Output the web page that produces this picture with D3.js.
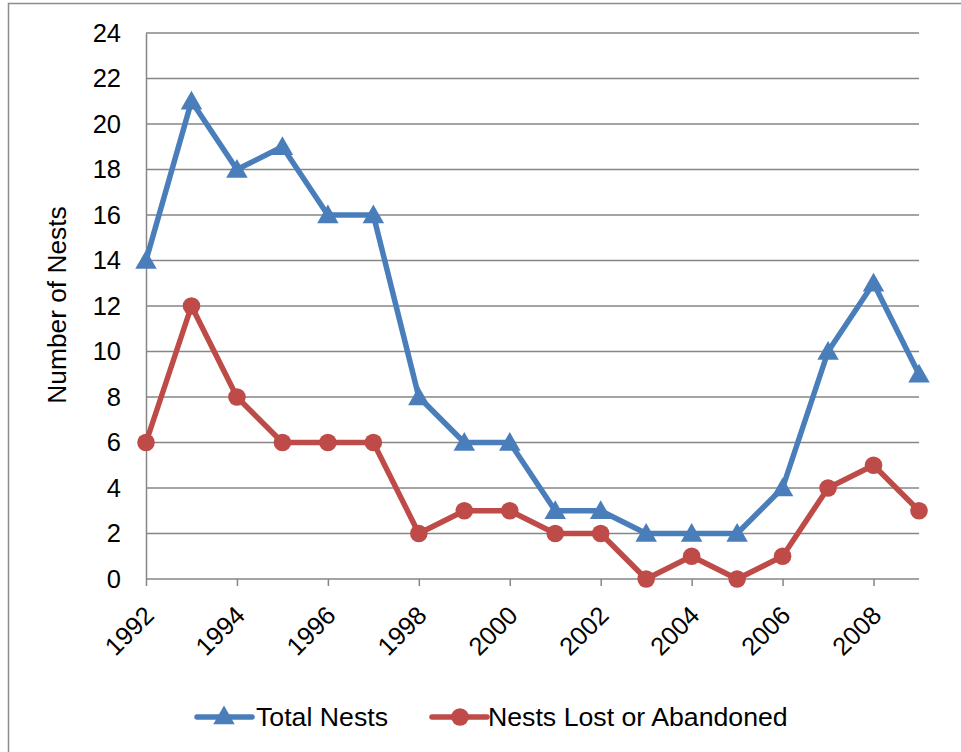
<!DOCTYPE html>
<html><head><meta charset="utf-8">
<script src="https://cdn.jsdelivr.net/npm/d3@7"></script>
<style>body{margin:0;background:#fff}svg{display:block;font-family:"Liberation Sans",Arial,sans-serif}</style>
</head><body><svg id="c" width="961" height="752"></svg>
<script>
const years = [1992,1993,1994,1995,1996,1997,1998,1999,2000,2001,2002,2003,2004,2005,2006,2007,2008,2009];
const totalNests = [14,21,18,19,16,16,8,6,6,3,3,2,2,2,4,10,13,9];
const nestsLost = [6,12,8,6,6,6,2,3,3,2,2,0,1,0,1,4,5,3];
const yTicks = [0,2,4,6,8,10,12,14,16,18,20,22,24];
const xTickYears = [1992,1994,1996,1998,2000,2002,2004,2006,2008];
const seriesNames = ["Total Nests","Nests Lost or Abandoned"];
const colors = ["#4A7EBB","#BE4B48"];

const svg = d3.select("#c");
const L=146, R=919, T=33, B=579;
const x = d3.scaleLinear().domain([1992,2009]).range([L,R]);
const y = d3.scaleLinear().domain([0,24]).range([B,T]);
const grid="#868686";

svg.append("rect").attr("x",8.5).attr("y",3.5).attr("width",1000).attr("height",800)
  .attr("fill","none").attr("stroke","#8c8c8c").attr("stroke-width",1.5);

svg.append("g").selectAll("line").data(yTicks.filter(d=>d>0)).join("line")
  .attr("x1",L).attr("x2",R).attr("y1",d=>y(d)).attr("y2",d=>y(d))
  .attr("stroke",grid).attr("stroke-width",1.5);

const ya = svg.append("g").attr("transform",`translate(${L},0)`)
  .call(d3.axisLeft(y).tickValues(yTicks).tickSize(0).tickPadding(25));
ya.select(".domain").attr("stroke",grid).attr("stroke-width",1.5);
ya.selectAll("text").attr("font-size",25.5).attr("fill","#000").attr("font-family","Liberation Sans, Arial, sans-serif");

const xa = svg.append("g").attr("transform",`translate(0,${B})`)
  .call(d3.axisBottom(x).tickValues(xTickYears).tickSize(7).tickFormat(d3.format("d")));
xa.select(".domain").attr("d",`M${L},0H${R}`).attr("stroke",grid).attr("stroke-width",1.5);
xa.selectAll(".tick line").attr("stroke",grid).attr("stroke-width",1.5);
xa.selectAll("text").attr("font-size",25.5).attr("fill","#000").attr("font-family","Liberation Sans, Arial, sans-serif")
  .attr("text-anchor","end").attr("y",0).attr("dy",0)
  .attr("transform","translate(9,38) rotate(-45)");

svg.append("text").attr("transform","translate(66,305) rotate(-90)").attr("text-anchor","middle")
  .attr("font-size",26.3).text("Number of Nests");

const line = d3.line().x((d,i)=>x(years[i])).y(d=>y(d));
const tri = d3.symbol().type(d3.symbolTriangle).size(200);

svg.append("path").datum(nestsLost).attr("d",line).attr("fill","none")
  .attr("stroke",colors[1]).attr("stroke-width",5.5).attr("stroke-linejoin","round");
svg.append("g").selectAll("circle").data(nestsLost).join("circle")
  .attr("cx",(d,i)=>x(years[i])).attr("cy",d=>y(d)).attr("r",8.8).attr("fill",colors[1]);

svg.append("path").datum(totalNests).attr("d",line).attr("fill","none")
  .attr("stroke",colors[0]).attr("stroke-width",5.5).attr("stroke-linejoin","round");
svg.append("g").selectAll("path").data(totalNests).join("path")
  .attr("d",tri).attr("transform",(d,i)=>`translate(${x(years[i])},${y(d)+2})`).attr("fill",colors[0]);

const lg = svg.append("g");
const ly = 717;
lg.append("line").attr("x1",197).attr("x2",252).attr("y1",ly).attr("y2",ly).attr("stroke",colors[0]).attr("stroke-width",5.5).attr("stroke-linecap","round");
lg.append("path").attr("d",tri).attr("transform",`translate(224,${ly+1})`).attr("fill",colors[0]);
lg.append("text").attr("x",256).attr("y",ly).attr("dy","0.35em").attr("font-size",26.7).text(seriesNames[0]);
lg.append("line").attr("x1",432).attr("x2",487).attr("y1",ly).attr("y2",ly).attr("stroke",colors[1]).attr("stroke-width",5.5).attr("stroke-linecap","round");
lg.append("circle").attr("cx",460).attr("cy",ly).attr("r",8.8).attr("fill",colors[1]);
lg.append("text").attr("x",488).attr("y",ly).attr("dy","0.35em").attr("font-size",26.7).text(seriesNames[1]);
</script></body></html>
